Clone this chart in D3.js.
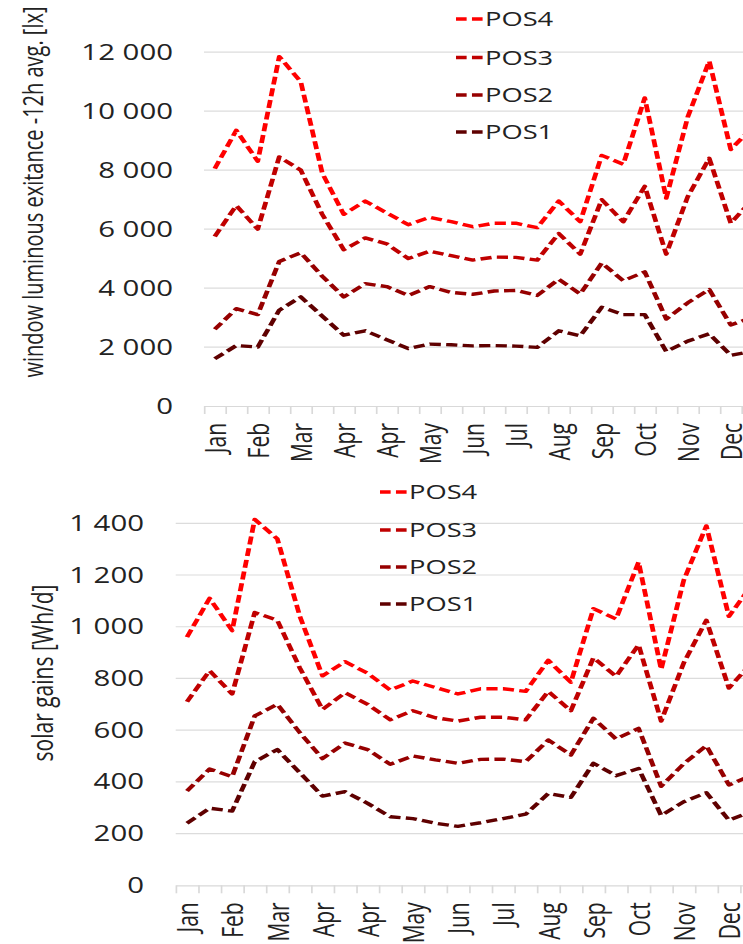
<!DOCTYPE html>
<html><head><meta charset="utf-8">
<script src="https://cdn.jsdelivr.net/npm/d3@7"></script>
<style>html,body{margin:0;padding:0;background:#fff;overflow:hidden}</style>
</head><body>
<svg id="c" width="743" height="944"></svg>
<script>
// ---------------- data ----------------
const categories = ["Jan","","Feb","","Mar","","Apr","","Apr","","May","","Jun","","Jul","","Aug","","Sep","","Oct","","Nov","","Dec",""];
const seriesNames = ["POS4","POS3","POS2","POS1"];

const luxPOS4 = [8050, 9350, 8300, 11850, 11000, 7900, 6500, 6950, 6550, 6150, 6400, 6250, 6080, 6200, 6200, 6050, 6950, 6250, 8500, 8200, 10450, 7050, 9800, 11700, 8700, 9450];
const luxPOS3 = [5750, 6800, 6000, 8450, 8000, 6500, 5300, 5700, 5500, 5000, 5250, 5100, 4950, 5050, 5040, 4950, 5850, 5150, 7000, 6250, 7450, 5150, 7100, 8400, 6200, 7000];
const luxPOS2 = [2600, 3300, 3100, 4900, 5200, 4400, 3700, 4150, 4050, 3750, 4050, 3850, 3790, 3900, 3920, 3750, 4300, 3800, 4850, 4250, 4550, 2950, 3500, 3950, 2750, 3000];
const luxPOS1 = [1600, 2050, 2000, 3250, 3700, 3050, 2400, 2550, 2250, 1950, 2100, 2075, 2040, 2050, 2030, 1990, 2550, 2380, 3350, 3100, 3100, 1850, 2200, 2450, 1720, 1850];

const solarPOS4 = [960, 1110, 985, 1415, 1340, 1040, 810, 865, 820, 755, 790, 765, 740, 760, 760, 750, 870, 785, 1070, 1030, 1250, 835, 1180, 1390, 1040, 1160];
const solarPOS3 = [710, 830, 740, 1055, 1025, 840, 680, 745, 700, 640, 675, 648, 635, 650, 650, 640, 750, 675, 880, 808, 930, 635, 860, 1025, 763, 860];
const solarPOS2 = [365, 450, 420, 655, 700, 590, 490, 550, 525, 468, 500, 485, 472, 487, 488, 478, 562, 504, 646, 566, 607, 383, 470, 540, 388, 425];
const solarPOS1 = [240, 298, 287, 478, 525, 435, 345, 362, 317, 265, 258, 240, 228, 242, 258, 275, 355, 340, 472, 424, 452, 270, 323, 358, 252, 285];

const luxTicks = [0, 2000, 4000, 6000, 8000, 10000, 12000];
const solarTicks = [0, 200, 400, 600, 800, 1000, 1200, 1400];

const luxTitle = "window luminous exitance -12h avg. [lx]";
const solarTitle = "solar gains [Wh/d]";

// ---------------- drawing ----------------
const S = 1.4; // horizontal stretch of the whole picture
const colors = ["#ff0000", "#c00000", "#960000", "#5f0000"];
const FONT = "'Open Sans', 'Noto Sans', sans-serif";
const fmt = d3.formatLocale({decimal: ".", thousands: " ", grouping: [3], currency: ["", ""]}).format(",");

const svg = d3.select("#c");
const root = svg.append("g").attr("transform", `scale(${S},1)`);

function panel(o) {
  const g = root.append("g");
  const n = categories.length;
  const x = d3.scaleLinear().domain([0, n]).range([o.left / S, (o.left + o.step * n) / S]);
  const y = d3.scaleLinear().domain([0, o.ticks[o.ticks.length - 1]]).range([o.bottom, o.top]);

  // gridlines
  g.append("g").selectAll("line").data(o.ticks.filter(t => t > 0)).join("line")
    .attr("x1", x(0)).attr("x2", x(n))
    .attr("y1", d => y(d)).attr("y2", d => y(d))
    .attr("stroke", "#dcdcdc").attr("stroke-width", 1.2);

  // y tick labels
  g.append("g").selectAll("text").data(o.ticks).join("text")
    .attr("x", o.labelRight / S).attr("y", d => y(d)).attr("dy", "0.36em")
    .attr("text-anchor", "end").attr("font-family", FONT).attr("font-size", o.tickFont)
    .attr("fill", "#222").text(d => fmt(d));

  // x axis (category boundary ticks)
  const ax = d3.axisBottom(x).tickValues(d3.range(n + 1)).tickSize(8).tickSizeOuter(0).tickFormat("");
  const axg = g.append("g").attr("transform", `translate(0,${o.bottom})`).call(ax);
  axg.selectAll("path,line").attr("stroke", "#d9d9d9").attr("stroke-width", 1.2);

  // x labels at category centres
  const labIdx = d3.range(n).filter(i => categories[i]);
  const axL = d3.axisBottom(x).tickValues(labIdx.map(i => i + 0.5)).tickSize(0)
    .tickFormat(v => categories[Math.floor(v)]);
  const axLg = g.append("g").attr("transform", `translate(0,${o.bottom})`).call(axL);
  axLg.select(".domain").remove();
  axLg.selectAll("text")
    .attr("x", -o.labelGap).attr("y", 0).attr("dy", "0.36em")
    .attr("text-anchor", "end").attr("transform", "rotate(-90)")
    .attr("font-family", FONT).attr("font-size", o.xFont).attr("fill", "#222");

  // series lines
  const line = d3.line().x((d, i) => x(i + 0.5)).y(d => y(d));
  o.series.forEach((s, k) => {
    g.append("path").datum(s).attr("d", line)
      .attr("fill", "none").attr("stroke", colors[k]).attr("stroke-width", 3.4)
      .attr("stroke-dasharray", "8,3.8").attr("stroke-linejoin", "round");
  });

  // legend
  seriesNames.forEach((name, k) => {
    const ly = o.legendY[k];
    g.append("line").attr("x1", o.legendX / S).attr("x2", (o.legendX + 27) / S)
      .attr("y1", ly).attr("y2", ly).attr("stroke", colors[k]).attr("stroke-width", 3.4)
      .attr("stroke-dasharray", "7.6,3.8");
    g.append("text").attr("x", (o.legendX + 29) / S).attr("y", ly).attr("dy", "0.36em")
      .attr("font-family", FONT).attr("font-size", o.legendFont).attr("fill", "#222").text(name);
  });

  // axis title
  g.append("text").attr("transform", `translate(${o.titleX / S},${o.titleY}) rotate(-90)`)
    .attr("text-anchor", "middle").attr("dy", "0.36em")
    .attr("font-family", FONT).attr("font-size", o.titleFont).attr("fill", "#222").text(o.title);
}

panel({
  left: 204, step: 21.5, bottom: 406, top: 52.2, ticks: luxTicks,
  series: [luxPOS4, luxPOS3, luxPOS2, luxPOS1],
  labelRight: 173, tickFont: 21, xFont: 21, labelGap: 17,
  legendX: 456, legendY: [19, 57.5, 95, 132], legendFont: 19.5,
  title: luxTitle, titleX: 33, titleY: 192, titleFont: 20
});

panel({
  left: 175.7, step: 22.58, bottom: 885.3, top: 523.3, ticks: solarTicks,
  series: [solarPOS4, solarPOS3, solarPOS2, solarPOS1],
  labelRight: 144, tickFont: 21, xFont: 21, labelGap: 17,
  legendX: 380, legendY: [492, 530, 567, 604], legendFont: 19.5,
  title: solarTitle, titleX: 42, titleY: 673, titleFont: 21
});
</script>
</body></html>
